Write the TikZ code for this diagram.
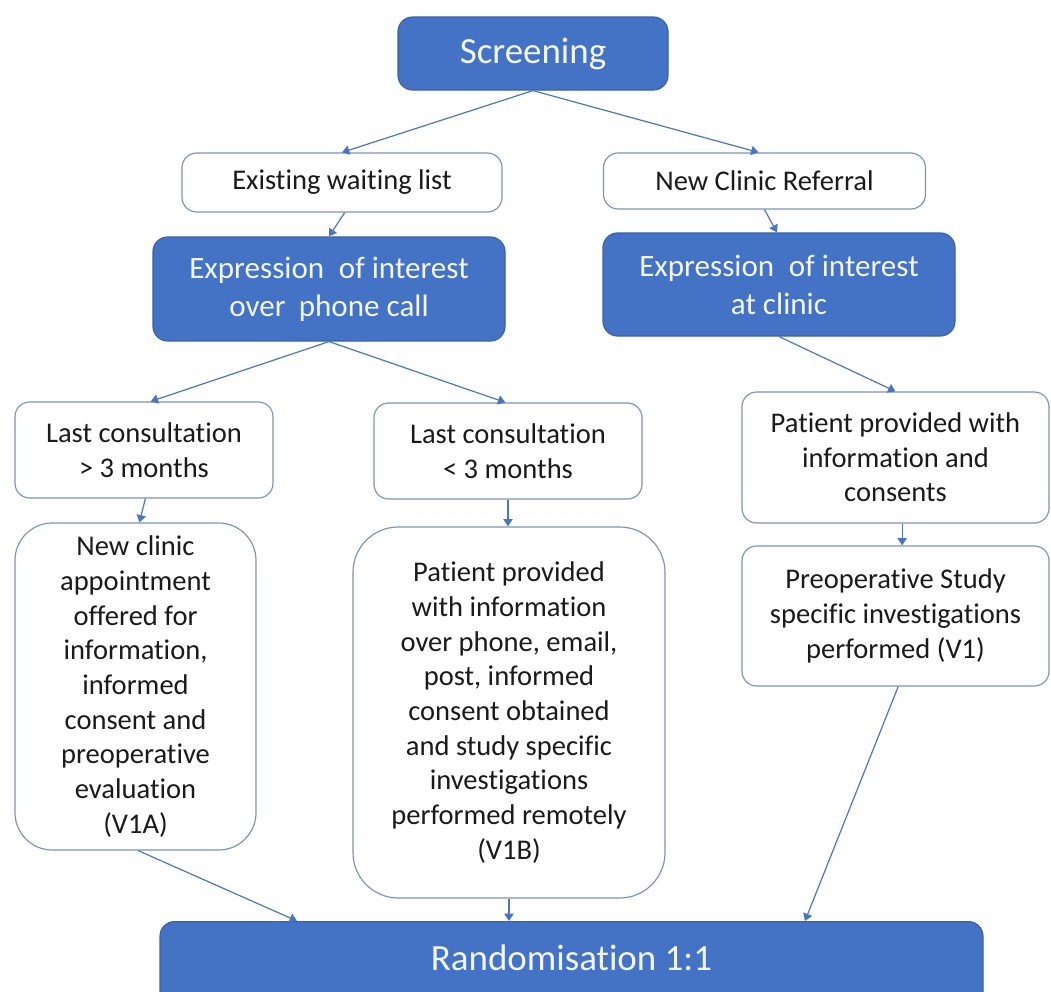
\documentclass[tikz,border=0pt]{standalone}
\usepackage{fontspec}
\setmainfont{Carlito}[Ligatures=NoCommon]
\usetikzlibrary{arrows.meta,calc}
\definecolor{boxblue}{HTML}{4472C4}
\definecolor{boxblueedge}{HTML}{3A62A8}
\definecolor{wedge}{HTML}{7F95B8}
\definecolor{arrowc}{HTML}{4A76C0}
\definecolor{txt}{HTML}{1A1A1A}
\definecolor{wtxt}{HTML}{F2F6FB}
\tikzset{
  whitebox/.style={draw=wedge, line width=0.9pt, fill=white, rounded corners=11pt,
    align=center, text=txt, inner sep=0pt,
    font=\fontsize{21.4pt}{26pt}\selectfont},
  bluebox/.style={draw=boxblueedge, line width=0.9pt, fill=boxblue, rounded corners=11pt,
    align=center, text=wtxt, inner sep=0pt,
    font=\fontsize{23.3pt}{28.5pt}\selectfont},
  bigblue/.style={bluebox, font=\fontsize{27.7pt}{33pt}\selectfont},
  conn/.style={draw=arrowc, line width=0.9pt, -{Triangle[width=7pt,length=5.5pt]}}
}
\begin{document}
\begin{tikzpicture}[x=0.75pt,y=-0.75pt]
\useasboundingbox (0,0) rectangle (1051,992);
\clip (0,0) rectangle (1051,992);
\fill[white] (0,0) rectangle (1051,992);

\node[bigblue, minimum width=202.5pt, minimum height=54.75pt] (scr) at (533,53.5) {Screening};

\node[whitebox, minimum width=240pt, minimum height=44.25pt] (ewl) at (342,182.5) {Existing waiting list};
\node[whitebox, minimum width=241.5pt, minimum height=42pt] (ncr) at (764.5,181) {New Clinic Referral};

\node[bluebox, minimum width=264pt, minimum height=78pt] (eip) at (329,289) {Expression~\hspace{0.25em}of interest\\over~\hspace{0.2em}phone call};
\node[bluebox, minimum width=264pt, minimum height=77.25pt] (eic) at (779,284.5) {Expression~\hspace{0.25em}of interest\\at clinic};

\node[whitebox, minimum width=193.5pt, minimum height=72pt] (lc1) at (144,450) {Last consultation\\> 3 months};
\node[whitebox, minimum width=201pt, minimum height=72pt] (lc2) at (508,451) {Last consultation\\< 3 months};
\node[whitebox, minimum width=230.25pt, minimum height=98.25pt] (ppi) at (895.5,457.5) {Patient provided with\\information and\\consents};

\node[whitebox, rounded corners=28pt, minimum width=180.75pt, minimum height=245.25pt] (nca) at (135.5,686.5)
  {New clinic\\appointment\\offered for\\information,\\informed\\consent and\\preoperative\\evaluation\\(V1A)};
\node[whitebox, rounded corners=34pt, minimum width=234pt, minimum height=278.25pt] (ppp) at (509,712.5)
  {Patient provided\\with information\\over phone, email,\\post, informed\\consent obtained\\and study specific\\investigations\\performed remotely\\(V1B)};
\node[whitebox, minimum width=230.25pt, minimum height=105pt] (pre) at (895.5,616)
  {Preoperative Study\\specific investigations\\performed (V1)};

\node[bigblue, anchor=north, minimum width=617.25pt, text height=36.75pt, text depth=45pt] (ran) at (571.5,921) {Randomisation 1:1};

\draw[conn] (scr.south) -- (ewl.north);
\draw[conn] (scr.south) -- ([xshift=-4.5pt]ncr.north);
\draw[conn] ([xshift=2pt]ewl.south) -- (eip.north);
\draw[conn] (ncr.south) -- ([xshift=-1.5pt]eic.north);
\draw[conn] (eip.south) -- ([xshift=5pt]lc1.north);
\draw[conn] (eip.south) -- ([xshift=-2pt]lc2.north);
\draw[conn] (eic.south) -- (ppi.north);
\draw[conn] ([xshift=1pt]lc1.south) -- ([xshift=3pt]nca.north);
\draw[conn] (lc2.south) -- (lc2.south |- ppp.north);
\draw[conn] ([xshift=5pt]ppi.south) -- ([xshift=5pt]pre.north);
\draw[conn] ([xshift=2pt]nca.south) -- ([xshift=-205.9pt]ran.north);
\draw[conn] (ppp.south) -- (ppp.south |- ran.north);
\draw[conn] ([xshift=2pt]pre.south) -- ([xshift=175.1pt]ran.north);
\end{tikzpicture}
\end{document}
